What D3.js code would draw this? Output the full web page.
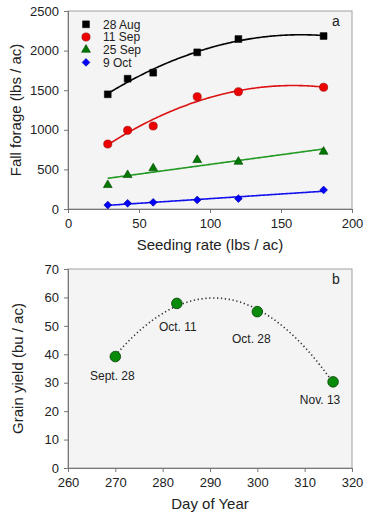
<!DOCTYPE html>
<html><head><meta charset="utf-8">
<script src="https://cdn.jsdelivr.net/npm/d3@7"></script>
<style>body{margin:0;background:#fff}svg{display:block;font-family:"Liberation Sans",Arial,sans-serif}</style>
</head><body><svg id="c" width="387" height="523"></svg>
<script>
// Panel a data
const seedingRates = [28, 42, 60, 91, 120, 180];
const aug28 = [1448, 1645, 1721, 1978, 2146, 2184];
const sep11 = [820, 993, 1048, 1418, 1481, 1537];
const sep25 = [303, 429, 514, 619, 597, 724];
const oct9 = [50, 72, 84, 114, 131, 240];
const seriesNames = ["28 Aug", "11 Sep", "25 Sep", "9 Oct"];
const fitOrder = [2, 2, 1, 1];
const xTicksA = [0, 50, 100, 150, 200];
const yTicksA = [0, 500, 1000, 1500, 2000, 2500];
// Panel b data
const dayOfYear = [270, 283, 300, 316];
const grainYield = [39.2, 57.9, 55.0, 30.3];
const dateLabels = ["Sept. 28", "Oct. 11", "Oct. 28", "Nov. 13"];
const xTicksB = [260, 270, 280, 290, 300, 310, 320];
const yTicksB = [0, 10, 20, 30, 40, 50, 60, 70];

const svg = d3.select("#c");
const L = 68, R = 352;

// least squares polynomial fit
function polyfit(xs, ys, order) {
  const n = order + 1;
  const A = Array.from({length: n}, () => new Array(n + 1).fill(0));
  xs.forEach((x, k) => {
    for (let i = 0; i < n; i++) {
      for (let j = 0; j < n; j++) A[i][j] += Math.pow(x, i + j);
      A[i][n] += ys[k] * Math.pow(x, i);
    }
  });
  for (let i = 0; i < n; i++) {
    let p = i;
    for (let r = i + 1; r < n; r++) if (Math.abs(A[r][i]) > Math.abs(A[p][i])) p = r;
    [A[i], A[p]] = [A[p], A[i]];
    for (let r = 0; r < n; r++) {
      if (r === i) continue;
      const f = A[r][i] / A[i][i];
      for (let c = i; c <= n; c++) A[r][c] -= f * A[i][c];
    }
  }
  const coef = A.map((row, i) => row[n] / row[i]);
  return x => coef.reduce((s, c, i) => s + c * Math.pow(x, i), 0);
}

function frame(x, y, top, bottom, xTicks, yTicks, xTitle, yTitle, letter, yTitleX) {
  svg.append("rect").attr("x", L).attr("y", top).attr("width", R - L).attr("height", bottom - top)
    .attr("fill", "#f4f4f4").attr("stroke", "#a0a0a0").attr("stroke-width", 1);
  const gx = svg.append("g").attr("transform", `translate(0,${bottom})`)
    .call(d3.axisBottom(x).tickValues(xTicks).tickFormat(d3.format("d")).tickSize(4).tickPadding(6));
  const gy = svg.append("g").attr("transform", `translate(${L},0)`)
    .call(d3.axisLeft(y).tickValues(yTicks).tickFormat(d3.format("d")).tickSize(4).tickPadding(5));
  [gx, gy].forEach(g => {
    g.selectAll("path,line").attr("stroke", "#777");
    g.selectAll("text").attr("font-size", 13).attr("fill", "#222").attr("font-family", "Liberation Sans, Arial, sans-serif");
  });
  svg.append("text").attr("x", 210).attr("y", bottom + 41).attr("text-anchor", "middle")
    .attr("font-size", 15).attr("fill", "#222").text(xTitle);
  svg.append("text").attr("transform", `translate(${yTitleX},${(top + bottom) / 2}) rotate(-90)`)
    .attr("text-anchor", "middle").attr("dy", "0.35em").attr("font-size", 15).attr("fill", "#222").text(yTitle);
  svg.append("text").attr("x", 336).attr("y", top + 15).attr("text-anchor", "middle")
    .attr("font-size", 14).attr("fill", "#222").text(letter);
}

// Panel a
const xa = d3.scaleLinear().domain([0, 200]).range([L, R]);
const ya = d3.scaleLinear().domain([0, 2500]).range([209, 11]);
frame(xa, ya, 11, 209, xTicksA, yTicksA, "Seeding rate (lbs / ac)", "Fall forage (lbs / ac)", "a", 16);

const seriesA = [aug28, sep11, sep25, oct9];
const lineColors = ["#000000", "#dd1111", "#229922", "#1111ee"];
const fillColors = ["#000000", "#ee0000", "#007700", "#0000ff"];
const strokeColors = ["#000000", "#990000", "#004400", "#000099"];
const symbols = [d3.symbolSquare, d3.symbolCircle, d3.symbolTriangle, d3.symbolSquare];
const sizes = [46, 52, 34, 30];
const rotations = [0, 0, 0, 45];

seriesA.forEach((vals, s) => {
  const f = polyfit(seedingRates, vals, fitOrder[s]);
  const xs = d3.range(seedingRates[0], seedingRates[seedingRates.length - 1] + 0.01, 1);
  svg.append("path").attr("fill", "none").attr("stroke", lineColors[s]).attr("stroke-width", 1.6)
    .attr("d", d3.line().x(d => xa(d)).y(d => ya(f(d)))(xs));
});
seriesA.forEach((vals, s) => {
  svg.append("g").selectAll("path").data(vals).join("path")
    .attr("transform", (d, i) => `translate(${xa(seedingRates[i])},${ya(d)}) rotate(${rotations[s]})`)
    .attr("d", d3.symbol().type(symbols[s]).size(sizes[s]))
    .attr("fill", fillColors[s]).attr("stroke", strokeColors[s]).attr("stroke-width", 0.6);
});
// legend
seriesNames.forEach((name, s) => {
  const yy = 24.3 + s * 12.7;
  svg.append("path").attr("transform", `translate(86,${yy}) rotate(${rotations[s]})`)
    .attr("d", d3.symbol().type(symbols[s]).size(sizes[s]))
    .attr("fill", fillColors[s]).attr("stroke", strokeColors[s]).attr("stroke-width", 0.6);
  svg.append("text").attr("x", 103).attr("y", yy).attr("dy", "0.35em")
    .attr("font-size", 12).attr("fill", "#222").text(name);
});

// Panel b
const xb = d3.scaleLinear().domain([260, 320]).range([L, R]);
const yb = d3.scaleLinear().domain([0, 70]).range([468, 269]);
frame(xb, yb, 269, 468, xTicksB, yTicksB, "Day of Year", "Grain yield (bu / ac)", "b", 18);
const fb = polyfit(dayOfYear, grainYield, 2);
const xsb = d3.range(dayOfYear[0], dayOfYear[3] + 0.01, 0.5);
svg.append("path").attr("fill", "none").attr("stroke", "#333").attr("stroke-width", 1.6)
  .attr("stroke-dasharray", "1.3,2.6")
  .attr("d", d3.line().x(d => xb(d)).y(d => yb(fb(d)))(xsb));
svg.append("g").selectAll("circle").data(grainYield).join("circle")
  .attr("cx", (d, i) => xb(dayOfYear[i])).attr("cy", d => yb(d)).attr("r", 5.3)
  .attr("fill", "#0a8a0a").attr("stroke", "#054005").attr("stroke-width", 0.8);
const labelOffsets = [[-3, 23.5], [1, 27.5], [-6, 31.5], [-13, 22]];
svg.append("g").selectAll("text").data(dateLabels).join("text")
  .attr("x", (d, i) => xb(dayOfYear[i]) + labelOffsets[i][0])
  .attr("y", (d, i) => yb(grainYield[i]) + labelOffsets[i][1])
  .attr("text-anchor", "middle").attr("font-size", 12).attr("fill", "#222").text(d => d);
</script></body></html>
